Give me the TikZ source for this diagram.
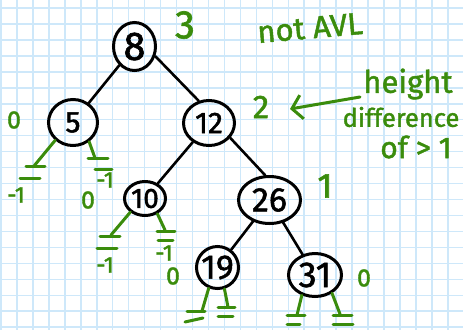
\documentclass[tikz,border=0pt]{standalone}
\usepackage{fontspec}
\setmainfont{Fira Sans}[FakeBold=1.5]
\usetikzlibrary{shapes.geometric,arrows.meta,calc}
\definecolor{gridblue}{RGB}{206,232,250}
\definecolor{gr}{RGB}{58,140,12}
\newcommand\gstub[6]{%
  \draw[gline] (#1) -- (#2);
  \draw[gline] ($(#2)+#3$) -- ($(#2)+#4$);
  \draw[gline] ($(#2)+#5$) -- ($(#2)+#6$);}
\newcommand\fs[1]{\fontsize{#1}{#1}\selectfont}
\newcommand\zb[1]{\makebox[0pt]{#1}}
\begin{document}
\begin{tikzpicture}[x=1pt,y=-1pt,
  tnode/.style={ellipse,draw,line width=3pt,inner sep=0pt},
  edge/.style={line width=2.6pt,line cap=round},
  gline/.style={gr,line width=3pt,line cap=round},
  glabel/.style={text=gr,inner sep=0pt}]
\useasboundingbox (0,0) rectangle (463,330);
\fill[white] (0,0) rectangle (463,330);
\foreach \k in {0,...,28} \draw[gridblue,line width=1.5pt] ({1+15.96*\k},0) -- ({1+15.96*\k},330);
\foreach \k in {0,...,20} \draw[gridblue,line width=1.5pt] (0,{8+15.96*\k}) -- (463,{8+15.96*\k});

% tree nodes
\node[tnode,minimum width=42,minimum height=48,font=\fs{40}] (n8) at (134.5,46.5) {\zb{8}};
\node[tnode,minimum width=49,minimum height=46,font=\fs{30}] (n5) at (73,122.5) {\zb{5}};
\node[tnode,minimum width=51,minimum height=45,font=\fs{30}] (n12) at (209,123) {\zb{12}};
\node[tnode,minimum width=41,minimum height=34,font=\fs{28}] (n10) at (145,198.5) {\zb{10}};
\node[tnode,minimum width=62,minimum height=47,font=\fs{34}] (n26) at (269.5,200) {\zb{26}};
\node[tnode,minimum width=42,minimum height=42,font=\fs{34}] (n19) at (217.5,267.5) {\zb{19}};
\node[tnode,minimum width=53,minimum height=43,font=\fs{36}] (n31) at (315,275) {\zb{31}};

% edges
\draw[edge] (n8) -- (n5);
\draw[edge] (n8.-25) -- (n12.115);
\draw[edge] (n12) -- (n10);
\draw[edge] (n12.-35) -- (n26.100);
\draw[edge] (n26) -- (n19);
\draw[edge] (n26) -- (n31);

% null stubs
\coordinate (s5l) at (34,166);
\coordinate (s5r) at (95,158);
\coordinate (s10l) at (111,235);
\coordinate (s10r) at (165,230);
\coordinate (s19l) at (202,311);
\coordinate (s19r) at (228,307);
\coordinate (s31l) at (297,315);
\coordinate (s31r) at (340,314);
\gstub{n5.-135}{s5l}{(-8,0)}{(11,0)}{(-14,12)}{(6,12)}
\gstub{n5.-50}{s5r}{(-7,0)}{(13,0)}{(0,11)}{(17,11)}
\gstub{n10.-137}{s10l}{(-11,1)}{(9,1)}{(-14,13)}{(6,13)}
\gstub{n10.-51}{s10r}{(-8,1)}{(10,1)}{(-7,10)}{(8,10)}
\gstub{n19.-113}{s19l}{(-15,0)}{(3,0)}{(-17,11)}{(1,7)}
\gstub{n19.-72}{s19r}{(-10,0)}{(7,0)}{(-10,9)}{(5,9)}
\gstub{n31.-123}{s31l}{(-10,0)}{(8,0)}{(-10,9)}{(3,9)}
\gstub{n31.-47}{s31r}{(-7,1)}{(12,1)}{(-7,10)}{(13,10)}

% null labels
\node[glabel,font=\fs{23}] (m5l) at (16,195) {-1};
\node[glabel,font=\fs{23}] (m5r) at (105,180) {-1};
\node[glabel,font=\fs{23}] (m10l) at (105,265) {-1};
\node[glabel,font=\fs{23}] (m10r) at (164,253) {-1};

% heights
\node[glabel,font=\fs{40}] (h8) at (185,25) {3};
\node[glabel,font=\fs{33}] (h12) at (261,107) {2};
\node[glabel,font=\fs{35}] (h26) at (325,186) {1};
\node[glabel,font=\fs{25}] (h5) at (14,120) {0};
\node[glabel,font=\fs{25}] (h10) at (88,200) {0};
\node[glabel,font=\fs{25}] (h19) at (173,276) {0};
\node[glabel,font=\fs{25}] (h31) at (364,278) {0};

% annotations
\node[glabel,font=\fs{31},rotate=5] (notavl) at (310,28) {not AVL};
\node[glabel,font=\fs{31}] (t1) at (408,84) {height};
\node[glabel,font=\fs{25.5}] (t2) at (401,117) {difference};
\node[glabel,font=\fs{30}] (t3) at (416,147) {of > 1};
\coordinate (astart) at (360,97);
\coordinate (aend) at (290,109);
\draw[gline,-{Straight Barb[length=10pt,width=24pt]}] (astart) -- (aend);
\end{tikzpicture}
\end{document}
